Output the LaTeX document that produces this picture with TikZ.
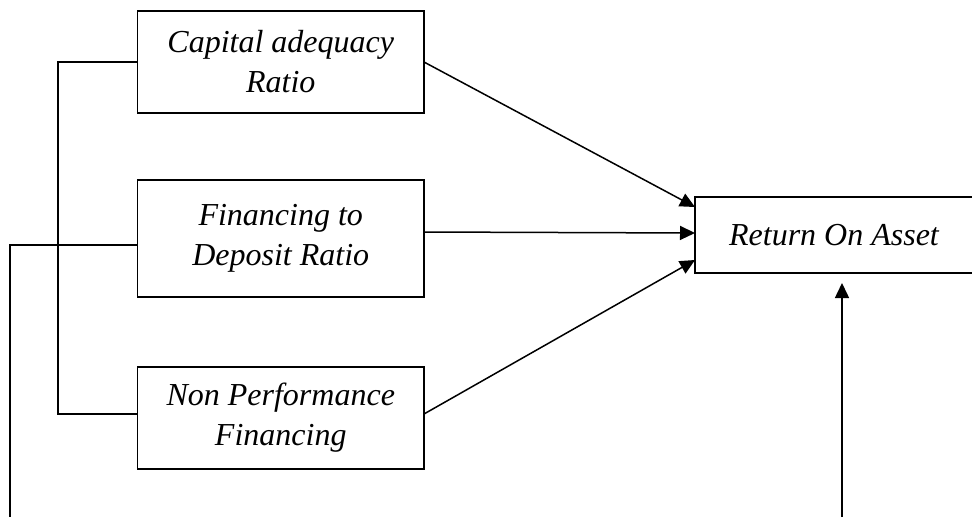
\documentclass[tikz,border=0pt]{standalone}
\usepackage{fontspec}
\setmainfont{Liberation Serif}
\usetikzlibrary{arrows.meta}
\begin{document}
\begin{tikzpicture}[x=1pt,y=-1pt,
  every node/.style={inner sep=0pt,outer sep=0pt},
  vbox/.style={draw,line width=1.6pt,minimum width=286.5pt,align=center,
    font=\fontsize{32}{40}\selectfont\itshape},
  conn/.style={line width=1.5pt},
  arr/.style={line width=1.5pt,-{Triangle[length=15pt,width=14pt]}}]
\useasboundingbox (0,0) rectangle (972,517);
\node[vbox,minimum height=102pt] (car) at (280.75,62) {Capital adequacy\\Ratio};
\node[vbox,minimum height=117pt] (fdr) at (280.75,238.5) {Financing to\\Deposit Ratio};
\node[vbox,minimum height=102pt] (npf) at (280.75,418) {Non Performance\\Financing};
\node[vbox,minimum width=278pt,minimum height=76pt] (roa) at (834,235) {Return On Asset};
\coordinate (lb) at (58,62);
\coordinate (fb) at (10,517);
\coordinate (rb) at (842,517);
\draw[conn] (car.west) -- (lb) |- ([yshift=4pt]npf.west);
\draw[conn] ([yshift=-6.5pt]fdr.west) -| (fb);
\draw[arr] (car.east) -- ([yshift=28pt]roa.west);
\draw[arr] ([yshift=6.5pt]fdr.east) -- ([yshift=2pt]roa.west);
\draw[arr] ([yshift=4pt]npf.east) -- ([yshift=-25pt]roa.west);
\draw[arr] (rb) -- ([xshift=8pt,yshift=-10pt]roa.south);
\end{tikzpicture}
\end{document}
